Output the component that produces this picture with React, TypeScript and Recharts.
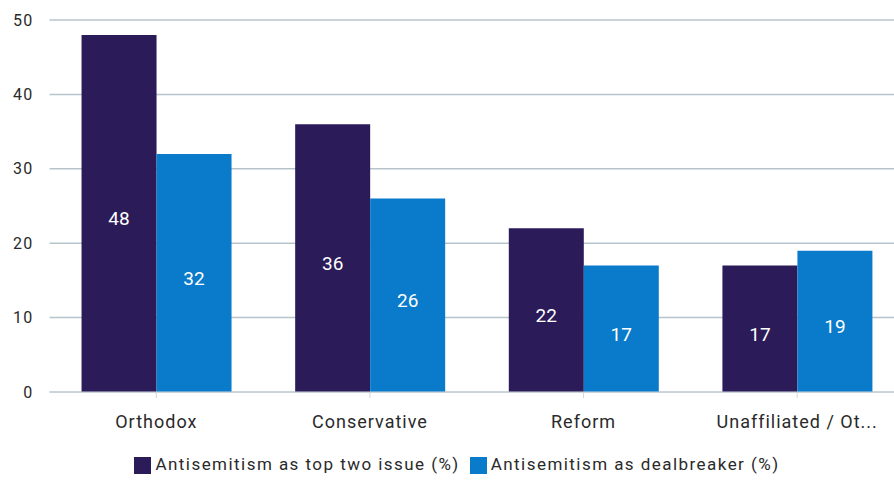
import React from 'react';
import {
  BarChart,
  Bar,
  XAxis,
  YAxis,
  CartesianGrid,
  Legend,
  LabelList
} from 'recharts';

const categories = ['Orthodox', 'Conservative', 'Reform', 'Unaffiliated / Other'];
const topTwoIssue = [48, 36, 22, 17];
const dealbreaker = [32, 26, 17, 19];
const yTicks = [0, 10, 20, 30, 40, 50];
const seriesOrder = ['topTwo', 'dealbreaker'];

const data = categories.map((name, i) => ({
  name,
  topTwo: topTwoIssue[i],
  dealbreaker: dealbreaker[i],
}));

// long category names get cut off like in the original
const truncate = (value: string) => (value.length > 17 ? `${value.slice(0, 17)}...` : value);

const App: React.FC = () => {
  return (
    <div
      style={{
        position: 'fixed',
        left: 0,
        top: 0,
        width: 894,
        height: 480,
        overflow: 'hidden',
        background: '#fff',
        fontFamily: 'Roboto, sans-serif',
      }}
    >
      <BarChart
        width={904}
        height={480}
        data={data}
        margin={{ top: 20, right: 0, left: 0, bottom: 0 }}
        barCategoryGap="15%"
        barGap={0}
      >
        <CartesianGrid vertical={false} stroke="#b7c4cc" strokeWidth={1.5} />
        <XAxis
          dataKey="name"
          height={62}
          tickFormatter={truncate}
          tick={{ fontSize: 18, fill: '#2a2a2a', letterSpacing: 1 }}
          tickMargin={17}
          axisLine={{ stroke: '#cfd6da' }}
          tickLine={{ stroke: '#cfd6da' }}
          interval={0}
        />
        <YAxis
          width={49.5}
          domain={[0, 50]}
          ticks={yTicks}
          tick={{ fontSize: 16, fill: '#2a2a2a', letterSpacing: 1.2 }}
          tickMargin={10}
          axisLine={false}
          tickLine={false}
        />
        <Legend
          verticalAlign="bottom"
          height={26}
          iconType="square"
          iconSize={17}
          wrapperStyle={{ paddingLeft: 10 }}
          itemSorter={(item: any) => seriesOrder.indexOf(item.dataKey)}
          formatter={(value: string) => (
            <span style={{ color: '#2a2a2a', fontSize: 17, letterSpacing: 1.45 }}>{value}</span>
          )}
        />
        <Bar
          dataKey="topTwo"
          name="Antisemitism as top two issue (%)"
          fill="#2b1b59"
          isAnimationActive={false}
        >
          <LabelList dataKey="topTwo" position="center" fill="#fff" fontSize={19} dy={5} />
        </Bar>
        <Bar
          dataKey="dealbreaker"
          name="Antisemitism as dealbreaker (%)"
          fill="#0a7acb"
          isAnimationActive={false}
        >
          <LabelList dataKey="dealbreaker" position="center" fill="#fff" fontSize={19} dy={5} />
        </Bar>
      </BarChart>
    </div>
  );
};

export default App;
